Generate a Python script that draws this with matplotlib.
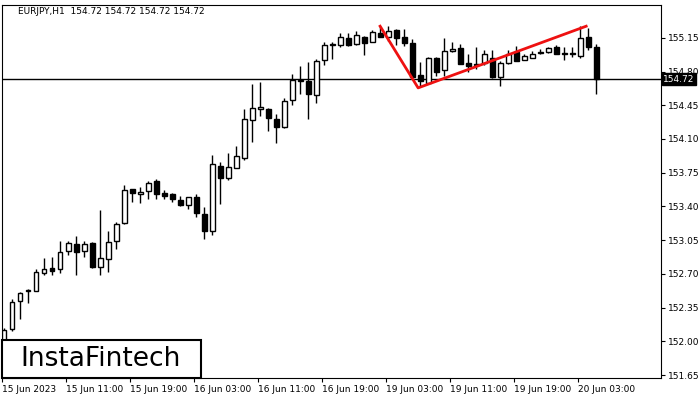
import matplotlib.pyplot as plt
import numpy as np

opens = [152.01, 152.13, 152.42, 152.52, 152.52, 152.71, 152.76, 152.75, 152.94, 153.01,
         152.94, 153.02, 152.77, 152.85, 153.04, 153.23, 153.58, 153.53, 153.56, 153.66,
         153.54, 153.53, 153.47, 153.41, 153.50, 153.32, 153.15, 153.82, 153.70, 153.80,
         153.90, 154.30, 154.41, 154.41, 154.31, 154.22, 154.50, 154.70, 154.70, 154.56,
         154.92, 155.08, 155.07, 155.15, 155.09, 155.16, 155.11, 155.20, 155.16, 155.23,
         155.16, 155.10, 154.76, 154.68, 154.94, 154.82, 155.01, 155.04, 154.89, 154.88,
         154.89, 154.94, 154.74, 154.89, 155.00, 154.92, 154.94, 154.99, 155.00, 155.05,
         154.99, 154.99, 154.96, 155.16, 155.05]
highs = [152.14, 152.44, 152.51, 152.54, 152.75, 152.86, 152.88, 153.04, 153.04, 153.09,
         153.04, 153.03, 153.36, 153.14, 153.24, 153.62, 153.58, 153.60, 153.66, 153.68,
         153.57, 153.54, 153.51, 153.50, 153.53, 153.39, 153.93, 153.86, 153.95, 154.03,
         154.41, 154.67, 154.69, 154.42, 154.36, 154.52, 154.77, 154.86, 154.90, 154.93,
         155.11, 155.11, 155.20, 155.20, 155.22, 155.17, 155.23, 155.27, 155.27, 155.24,
         155.24, 155.14, 154.90, 154.95, 154.95, 155.15, 155.11, 155.09, 154.98, 155.05,
         155.02, 155.02, 154.91, 155.02, 155.06, 154.98, 155.01, 155.03, 155.05, 155.07,
         155.05, 155.05, 155.27, 155.25, 155.09]
lows = [151.96, 152.11, 152.23, 152.40, 152.52, 152.69, 152.69, 152.71, 152.90, 152.69,
        152.88, 152.76, 152.69, 152.72, 152.96, 153.22, 153.45, 153.44, 153.48, 153.48,
        153.48, 153.45, 153.40, 153.37, 153.29, 153.06, 153.10, 153.43, 153.67, 153.80,
        153.88, 154.07, 154.34, 154.18, 154.06, 154.21, 154.45, 154.57, 154.31, 154.47,
        154.87, 154.93, 155.05, 155.06, 155.07, 154.97, 155.11, 155.16, 155.12, 155.07,
        155.06, 154.73, 154.64, 154.67, 154.75, 154.75, 155.00, 154.88, 154.79, 154.83,
        154.87, 154.73, 154.65, 154.88, 154.91, 154.92, 154.94, 154.98, 154.99, 154.98,
        154.92, 154.95, 154.94, 155.02, 154.57]
closes = [152.12, 152.41, 152.50, 152.53, 152.72, 152.75, 152.73, 152.93, 153.02, 152.93,
          153.01, 152.77, 152.86, 153.03, 153.22, 153.57, 153.54, 153.55, 153.64, 153.53,
          153.51, 153.48, 153.42, 153.50, 153.33, 153.15, 153.84, 153.70, 153.81, 153.92,
          154.31, 154.42, 154.43, 154.32, 154.22, 154.49, 154.71, 154.71, 154.57, 154.91,
          155.08, 155.08, 155.16, 155.07, 155.18, 155.10, 155.21, 155.16, 155.22, 155.15,
          155.10, 154.74, 154.70, 154.94, 154.80, 155.01, 155.03, 154.88, 154.86, 154.87,
          154.98, 154.74, 154.89, 154.98, 154.91, 154.96, 154.98, 155.00, 155.04, 154.98,
          154.98, 154.98, 155.15, 155.05, 154.72]

pattern_x = [47, 51.75, 72.75]
pattern_y = [155.27, 154.63, 155.27]
last_price = 154.72

time_ticks = [0, 8, 16, 24, 32, 40, 48, 56, 64, 72]
time_labels = ["15 Jun 2023", "15 Jun 11:00", "15 Jun 19:00", "16 Jun 03:00", "16 Jun 11:00",
               "16 Jun 19:00", "19 Jun 03:00", "19 Jun 11:00", "19 Jun 19:00", "20 Jun 03:00"]
price_ticks = [151.65, 152.00, 152.35, 152.70, 153.05, 153.40, 153.75, 154.10, 154.45, 154.80, 155.15]

fig = plt.figure(figsize=(7, 4), dpi=100)
ax = fig.add_axes([2/700, 22/400, 659/700, 373/400])

x = np.arange(len(opens))
o = np.array(opens); c = np.array(closes)
ax.vlines(x, lows, highs, color="black", lw=1, zorder=2)
bull = c >= o
bottoms = np.minimum(o, c)
heights = np.maximum(np.abs(c - o), 0.008)
ax.bar(x[bull], heights[bull], bottom=bottoms[bull], width=0.62, facecolor="white",
       edgecolor="black", lw=1, zorder=3)
ax.bar(x[~bull], heights[~bull], bottom=bottoms[~bull], width=0.62, facecolor="black",
       edgecolor="black", lw=1, zorder=3)

ax.plot(pattern_x, pattern_y, color="#ee1111", lw=2, zorder=4)
ax.axhline(last_price, color="black", lw=1, zorder=1)

ax.set_xlim(-0.25, 82.1)
ax.set_ylim(151.62, 155.49)
ax.yaxis.tick_right()
ax.set_yticks(price_ticks)
ax.set_yticklabels([f"{p:.2f}" for p in price_ticks], fontsize=6.5)
ax.set_xticks([t - 0.25 for t in time_ticks])
ax.set_xticklabels(time_labels, fontsize=6.5, ha="left")
ax.tick_params(length=3, width=0.8, pad=2)
for s in ax.spines.values():
    s.set_linewidth(0.8)

ax.text(82.1 + 0.3, last_price, f"{last_price:.2f}", fontsize=6.5, color="white", va="center",
        ha="left", clip_on=False, bbox=dict(boxstyle="square,pad=0.15", fc="black", ec="black"),
        zorder=6)

fig.text(18/700, 1 - 11/400, "EURJPY,H1  154.72 154.72 154.72 154.72", fontsize=6.5, va="center")

fig.patches.append(plt.Rectangle((2/700, 22/400), 199/700, 38/400, transform=fig.transFigure,
                                 fc="white", ec="black", lw=1.5, zorder=5))
fig.text(101/700, 41/400, "InstaFintech", fontsize=19, ha="center", va="center", zorder=6)

fig.savefig("out.png", dpi=100)
